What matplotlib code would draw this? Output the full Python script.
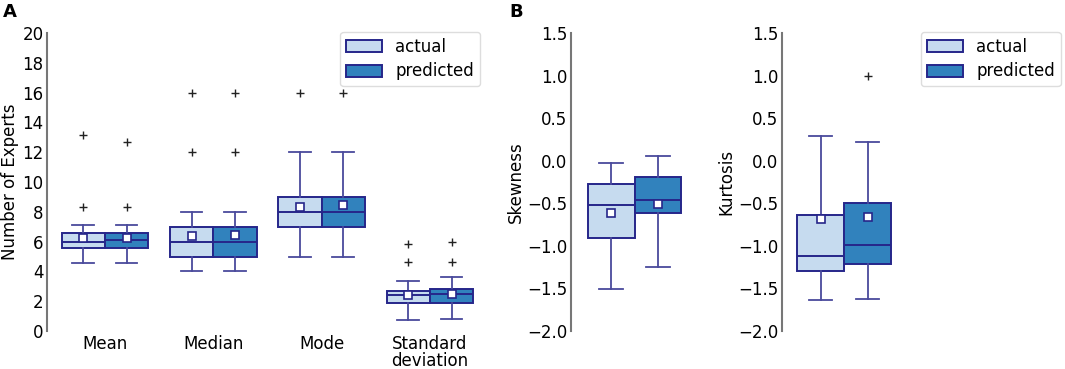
import matplotlib.pyplot as plt
from matplotlib.patches import Patch

plt.rcParams['font.family'] = ['DejaVu Sans']

# ---- data ----
groups_a = ['Mean', 'Median', 'Mode', 'Standard\ndeviation']

# actual
act_q1 = [5.55, 5.0, 7.0, 1.86]
act_med = [5.96, 6.0, 8.0, 2.40]
act_q3 = [6.56, 7.0, 9.0, 2.69]
act_lo = [4.55, 4.0, 5.0, 0.74]
act_hi = [7.14, 8.0, 12.0, 3.36]
act_mean = [6.27, 6.40, 8.30, 2.42]
act_fliers = [[8.35, 13.17], [12.0, 16.0], [16.0], [4.64, 5.85]]

# predicted
pred_q1 = [5.55, 5.0, 7.0, 1.88]
pred_med = [6.11, 6.0, 8.0, 2.46]
pred_q3 = [6.56, 7.0, 9.0, 2.82]
pred_lo = [4.55, 4.0, 5.0, 0.78]
pred_hi = [7.14, 8.0, 12.0, 3.65]
pred_mean = [6.27, 6.47, 8.44, 2.49]
pred_fliers = [[8.35, 12.7], [12.0, 16.0], [16.0], [4.64, 5.98]]

# panel B: skewness, kurtosis  (actual, predicted)
skew_act = dict(q1=-0.903, med=-0.519, q3=-0.276, whislo=-1.507, whishi=-0.029, mean=-0.609, fliers=[])
skew_pred = dict(q1=-0.617, med=-0.464, q3=-0.19, whislo=-1.248, whishi=0.05, mean=-0.507, fliers=[])
kurt_act = dict(q1=-1.291, med=-1.122, q3=-0.636, whislo=-1.636, whishi=0.285, mean=-0.683, fliers=[])
kurt_pred = dict(q1=-1.213, med=-0.989, q3=-0.499, whislo=-1.62, whishi=0.218, mean=-0.66, fliers=[0.99])

LIGHT = '#c6dbef'
DARK = '#3182bd'
EDGE = '#26268a'
WHISK = '#4a4a9c'
FS = 12


def stats(q1, med, q3, lo, hi, mean, fl):
    return [dict(q1=a, med=b, q3=c, whislo=d, whishi=e, mean=f, fliers=g)
            for a, b, c, d, e, f, g in zip(q1, med, q3, lo, hi, mean, fl)]


def draw(ax, st, pos, width, color):
    ax.bxp(st, positions=pos, widths=width, patch_artist=True, showmeans=True,
           boxprops=dict(facecolor=color, edgecolor=EDGE, linewidth=1.4),
           medianprops=dict(color=EDGE, linewidth=1.4),
           whiskerprops=dict(color=WHISK, linewidth=1.3),
           capprops=dict(color=WHISK, linewidth=1.3),
           meanprops=dict(marker='s', markerfacecolor='white', markeredgecolor=EDGE,
                          markersize=5.5, markeredgewidth=1.2),
           flierprops=dict(marker='+', markeredgecolor='#222222', markersize=6,
                           markeredgewidth=1.0))


def style(ax):
    for s in ['top', 'right', 'bottom']:
        ax.spines[s].set_visible(False)
    ax.spines['left'].set_color('#777777')
    ax.spines['left'].set_linewidth(1.5)
    ax.tick_params(axis='both', length=0, labelsize=FS)
    ax.tick_params(axis='y', pad=2.5)
    ax.tick_params(axis='x', pad=3)


fig = plt.figure(figsize=(10.65, 3.69), dpi=100)
B = 1 - 331 / 369
H = (331 - 33) / 369
axA = fig.add_axes([47 / 1065, B, 437 / 1065, H])
axS = fig.add_axes([571 / 1065, B, 127 / 1065, H])
axK = fig.add_axes([781.5 / 1065, B, 125 / 1065, H])

xa = list(range(len(groups_a)))
draw(axA, stats(act_q1, act_med, act_q3, act_lo, act_hi, act_mean, act_fliers),
     [x - 0.2 for x in xa], 0.4, LIGHT)
draw(axA, stats(pred_q1, pred_med, pred_q3, pred_lo, pred_hi, pred_mean, pred_fliers),
     [x + 0.2 for x in xa], 0.4, DARK)
axA.set_xlim(-0.535, 3.5)
axA.set_ylim(0, 20)
axA.set_yticks(range(0, 21, 2))
axA.set_xticks(xa)
axA.set_xticklabels(groups_a, linespacing=0.95)
axA.set_ylabel('Number of Experts', fontsize=FS, labelpad=2)
style(axA)

for ax, a, p, lab, w in [(axS, skew_act, skew_pred, 'Skewness', 0.37),
                         (axK, kurt_act, kurt_pred, 'Kurtosis', 0.376)]:
    draw(ax, [a], [-w / 2], w, LIGHT)
    draw(ax, [p], [w / 2], w, DARK)
    ax.set_xlim(-0.5, 0.5)
    ax.set_ylim(-2.0, 1.5)
    ax.set_yticks([-2.0, -1.5, -1.0, -0.5, 0.0, 0.5, 1.0, 1.5])
    ax.set_xticks([])
    ax.set_ylabel(lab, fontsize=FS, labelpad=2)
    style(ax)

handles = [Patch(facecolor=LIGHT, edgecolor=EDGE, linewidth=1.4, label='actual'),
           Patch(facecolor=DARK, edgecolor=EDGE, linewidth=1.4, label='predicted')]
legkw = dict(fontsize=FS, handlelength=2.15, handleheight=0.75, borderpad=0.35,
             labelspacing=0.4, handletextpad=0.8, edgecolor='#dddddd', framealpha=1,
             borderaxespad=0, bbox_transform=fig.transFigure)
axA.legend(handles=handles, loc='upper right', bbox_to_anchor=(480 / 1065, 1 - 32 / 369), **legkw)
axK.legend(handles=handles, loc='upper left', bbox_to_anchor=(921 / 1065, 1 - 32 / 369), **legkw)

fig.text(3 / 1065, 1 - 3 / 369, 'A', fontsize=13, fontweight='bold', va='top')
fig.text(509 / 1065, 1 - 3 / 369, 'B', fontsize=13, fontweight='bold', va='top')

fig.savefig('out.png', dpi=100)
